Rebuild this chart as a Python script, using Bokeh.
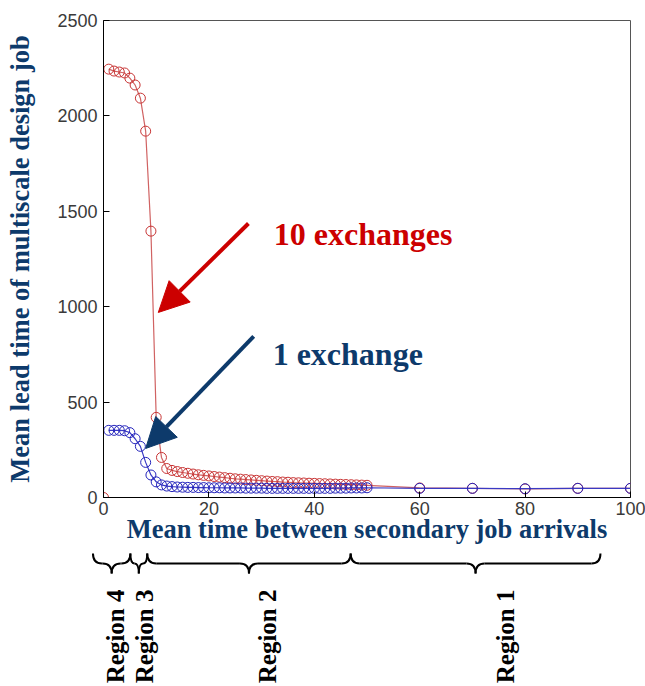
import numpy as np
from bokeh.plotting import figure
from bokeh.models import Range1d, FixedTicker, Arrow, NormalHead, Label
from bokeh.embed import file_html
from bokeh.resources import INLINE
from bokeh.core.properties import value

# ---------------- data ----------------
x_ten = list(range(1, 51)) + [60, 70, 80, 90, 100]
y_ten = [2245, 2235, 2230, 2225, 2198, 2162, 2093, 1920, 1396, 420, 210, 152,
         142, 136, 131, 127, 123, 119, 116, 113, 110, 107,
         104, 101, 98, 96, 94, 92, 90, 88, 86, 84,
         83, 81, 80, 78, 77, 76, 75, 74, 73, 72,
         71, 70, 69, 68, 67, 66, 65, 64,
         50, 48, 45, 48, 48]

x_one = list(range(1, 51)) + [60, 70, 80, 90, 100]
y_one = [352, 352, 352, 350, 340, 308, 268, 184, 118, 82, 66, 60,
         57, 55, 54, 53, 53, 52, 52, 51, 51, 51,
         50, 50, 50, 50, 49, 49, 49, 49, 48, 48,
         48, 48, 48, 48, 48, 48, 48, 48,
         48, 48, 48, 49, 49, 49, 50, 50, 50, 51,
         48, 48, 46, 48, 48]

x_zero = [0]
y_zero = [0]

x_ticks = [0, 20, 40, 60, 80, 100]
y_ticks = [0, 500, 1000, 1500, 2000, 2500]

region_names = ["Region 4", "Region 3", "Region 2", "Region 1"]
region_start = [-2.0, 5.1, 8.3, 46.9]
region_end = [5.1, 8.3, 46.9, 94.3]
region_label_x = [2.3, 7.8, 31.1, 76.3]

NAVY = "#0d3a6b"
RED = "#cc0000"
SERIF = "Liberation Serif"

W = 645
LEFT, RIGHT = 103, 15
X0, X1 = 0, 100

# ---------------- main plot ----------------
p = figure(width=W, height=549, x_range=Range1d(X0, X1), y_range=Range1d(0, 2500),
           output_backend="svg", toolbar_location=None,
           min_border_left=LEFT, min_border_right=RIGHT, min_border_top=20, min_border_bottom=52)
p.grid.visible = False
p.outline_line_color = "#555555"
p.outline_line_width = 1
p.background_fill_color = "white"
p.border_fill_color = "white"

for ax in (p.xaxis, p.yaxis):
    ax.major_tick_in = 6
    ax.major_tick_out = 0
    ax.minor_tick_line_color = None
    ax.axis_line_color = "black"
    ax.major_tick_line_color = "black"
    ax.major_label_text_font = "Liberation Sans"
    ax.major_label_text_font_size = "18px"
    ax.major_label_text_color = "#3a3a3a"
    ax.axis_label_text_font = SERIF
    ax.axis_label_text_font_style = "bold"
    ax.axis_label_text_font_size = "26.5px"
    ax.axis_label_text_color = NAVY

p.xaxis.ticker = FixedTicker(ticks=x_ticks)
p.yaxis.ticker = FixedTicker(ticks=y_ticks)
p.xaxis.major_label_standoff = 4
p.yaxis.major_label_standoff = 6
p.xaxis.axis_label = "Mean time between secondary job arrivals"
p.yaxis.axis_label = "Mean lead time of multiscale design job"
p.xaxis.axis_label_standoff = -4
p.yaxis.axis_label_standoff = 19

# 10 exchanges (red)
p.line(x_ten, y_ten, line_color="#d06262", line_width=1.2)
p.scatter(x_ten, y_ten, marker="circle", size=10, fill_color=None,
          line_color="#c83434", line_width=1)
p.scatter(x_zero, y_zero, marker="circle", size=10, fill_color=None,
          line_color="#c83434", line_width=1)

# 1 exchange (blue)
p.line(x_one, y_one, line_color="#3a3ac4", line_width=1.2)
p.scatter(x_one, y_one, marker="circle", size=10, fill_color=None,
          line_color="#2424bc", line_width=1)

# annotations
p.add_layout(Arrow(end=NormalHead(size=30, fill_color=RED, line_color=RED),
                   x_start=27.5, y_start=1436, x_end=10.4, y_end=970,
                   line_color=RED, line_width=4))
p.add_layout(Arrow(end=NormalHead(size=30, fill_color=NAVY, line_color=NAVY),
                   x_start=28.5, y_start=844, x_end=8.0, y_end=257,
                   line_color=NAVY, line_width=4))
p.add_layout(Label(x=32.3, y=1383, text="10 exchanges", text_font=SERIF,
                   text_font_style="bold", text_font_size="32px", text_color=RED,
                   text_baseline="alphabetic"))
p.add_layout(Label(x=32.1, y=750, text="1 exchange", text_font=SERIF,
                   text_font_style="bold", text_font_size="32px", text_color=NAVY,
                   text_baseline="alphabetic"))

# ---------------- regions strip (separate root, full-width frame) ----------------
H2 = 137
px_per_unit = (W - LEFT - RIGHT) / (X1 - X0)
p2 = figure(width=W, height=H2,
            x_range=Range1d(X0 - LEFT / px_per_unit, X1 + RIGHT / px_per_unit),
            y_range=Range1d(-H2, 0),
            output_backend="svg", toolbar_location=None,
            min_border_left=0, min_border_right=0, min_border_top=0, min_border_bottom=0)
p2.axis.visible = False
p2.grid.visible = False
p2.outline_line_color = None
p2.background_fill_color = "white"
p2.border_fill_color = "white"

y_top, y_mid, y_tip = -4, -14, -24
qx0, qy0, qx1, qy1, qcx, qcy = [], [], [], [], [], []
sx0, sy0, sx1, sy1 = [], [], [], []
for a, b in zip(region_start, region_end):
    c = (a + b) / 2.0
    r = min(9 / px_per_unit, (b - a) / 4.0)
    qx0.append(a); qy0.append(y_top); qcx.append(a); qcy.append(y_mid); qx1.append(a + r); qy1.append(y_mid)
    qx0.append(c - r); qy0.append(y_mid); qcx.append(c); qcy.append(y_mid); qx1.append(c); qy1.append(y_tip)
    qx0.append(c); qy0.append(y_tip); qcx.append(c); qcy.append(y_mid); qx1.append(c + r); qy1.append(y_mid)
    qx0.append(b - r); qy0.append(y_mid); qcx.append(b); qcy.append(y_mid); qx1.append(b); qy1.append(y_top)
    sx0 += [a + r, c + r]; sy0 += [y_mid, y_mid]; sx1 += [c - r, b - r]; sy1 += [y_mid, y_mid]

p2.quadratic(x0=qx0, y0=qy0, x1=qx1, y1=qy1, cx=qcx, cy=qcy, line_color="black", line_width=2)
p2.segment(x0=sx0, y0=sy0, x1=sx1, y1=sy1, line_color="black", line_width=2)

p2.text(x=region_label_x, y=[-40] * len(region_names), text=region_names,
        angle=np.pi / 2, text_align="right", text_baseline="middle",
        text_font=value(SERIF), text_font_style="bold", text_font_size="25px",
        text_color="black")

open("out.html", "w").write(file_html([p, p2], INLINE))
